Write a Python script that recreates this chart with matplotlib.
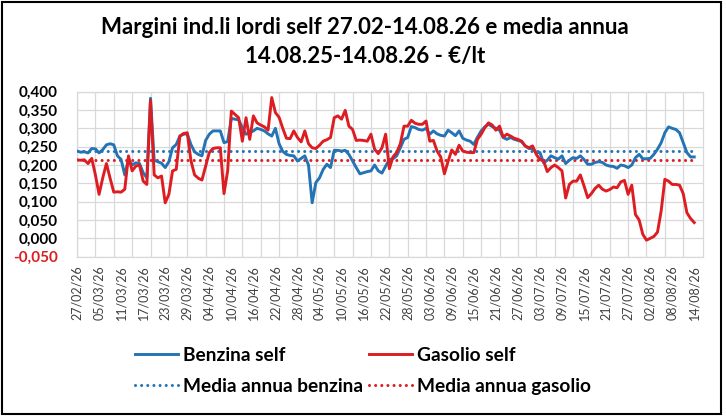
import matplotlib
matplotlib.use("Agg")
import matplotlib.pyplot as plt
import numpy as np
import pandas as pd
from matplotlib.patches import Rectangle

plt.rcParams['font.family'] = ['Lato', 'DejaVu Sans']

start_date = "2026-02-27"
end_date = "2026-08-14"

benzina = [
    0.238, 0.235, 0.236, 0.233, 0.245, 0.244, 0.233, 0.242, 0.255, 0.258,
    0.255, 0.225, 0.215, 0.173, 0.215, 0.200, 0.206, 0.204, 0.179, 0.165,
    0.382, 0.213, 0.209, 0.205, 0.193, 0.209, 0.247, 0.256, 0.279, 0.284,
    0.285, 0.256, 0.236, 0.229, 0.225, 0.267, 0.284, 0.293, 0.293, 0.293,
    0.261, 0.264, 0.327, 0.325, 0.323, 0.302, 0.284, 0.288, 0.293, 0.300,
    0.297, 0.293, 0.285, 0.279, 0.300, 0.258, 0.237, 0.229, 0.226, 0.225,
    0.211, 0.218, 0.225, 0.200, 0.097, 0.152, 0.165, 0.188, 0.202, 0.193,
    0.240, 0.240, 0.238, 0.240, 0.229, 0.211, 0.193, 0.176, 0.179, 0.182,
    0.184, 0.200, 0.184, 0.178, 0.197, 0.215, 0.217, 0.225, 0.247, 0.270,
    0.275, 0.305, 0.302, 0.297, 0.295, 0.300, 0.284, 0.293, 0.285, 0.281,
    0.279, 0.295, 0.288, 0.280, 0.293, 0.273, 0.268, 0.265, 0.256, 0.276,
    0.293, 0.304, 0.311, 0.305, 0.300, 0.295, 0.275, 0.270, 0.275, 0.270,
    0.267, 0.264, 0.252, 0.245, 0.245, 0.234, 0.234, 0.206, 0.213, 0.225,
    0.220, 0.216, 0.225, 0.204, 0.213, 0.220, 0.218, 0.225, 0.215, 0.202,
    0.202, 0.207, 0.209, 0.207, 0.200, 0.197, 0.196, 0.191, 0.200, 0.198,
    0.193, 0.200, 0.220, 0.229, 0.217, 0.217, 0.218, 0.229, 0.243, 0.261,
    0.288, 0.304, 0.300, 0.297, 0.288, 0.261, 0.234, 0.222, 0.222,
]

gasolio = [
    0.214, 0.213, 0.214, 0.204, 0.218, 0.173, 0.120, 0.165, 0.204, 0.164,
    0.126, 0.127, 0.126, 0.134, 0.225, 0.184, 0.197, 0.200, 0.156, 0.147,
    0.376, 0.173, 0.165, 0.170, 0.097, 0.120, 0.184, 0.188, 0.279, 0.286,
    0.288, 0.212, 0.173, 0.164, 0.159, 0.197, 0.234, 0.245, 0.247, 0.247,
    0.122, 0.184, 0.347, 0.338, 0.329, 0.265, 0.329, 0.270, 0.334, 0.315,
    0.309, 0.304, 0.295, 0.384, 0.343, 0.330, 0.300, 0.273, 0.272, 0.293,
    0.275, 0.263, 0.293, 0.258, 0.247, 0.245, 0.254, 0.265, 0.269, 0.275,
    0.329, 0.334, 0.325, 0.349, 0.306, 0.297, 0.267, 0.268, 0.267, 0.265,
    0.284, 0.243, 0.231, 0.247, 0.284, 0.190, 0.222, 0.234, 0.258, 0.306,
    0.306, 0.322, 0.314, 0.311, 0.311, 0.320, 0.265, 0.267, 0.238, 0.222,
    0.176, 0.210, 0.241, 0.229, 0.254, 0.238, 0.235, 0.234, 0.234, 0.270,
    0.284, 0.302, 0.315, 0.309, 0.295, 0.306, 0.276, 0.284, 0.279, 0.273,
    0.270, 0.265, 0.252, 0.247, 0.252, 0.229, 0.215, 0.211, 0.182, 0.193,
    0.200, 0.193, 0.184, 0.110, 0.147, 0.156, 0.156, 0.173, 0.143, 0.111,
    0.122, 0.136, 0.145, 0.134, 0.129, 0.133, 0.140, 0.138, 0.154, 0.158,
    0.120, 0.145, 0.065, 0.050, 0.011, -0.005, 0.000, 0.005, 0.017, 0.075,
    0.161, 0.156, 0.147, 0.147, 0.145, 0.122, 0.070, 0.054, 0.043,
]

media_benzina = 0.239
media_gasolio = 0.214

title_lines = ["Margini ind.li lordi self 27.02-14.08.26 e media annua",
               "14.08.25-14.08.26 - €/lt"]
series_labels = ["Benzina self", "Gasolio self",
                 "Media annua benzina", "Media annua gasolio"]
yticks = [-0.05, 0.0, 0.05, 0.10, 0.15, 0.20, 0.25, 0.30, 0.35, 0.40]

dates = pd.date_range(start_date, end_date, freq="D")
n = len(dates)
x = np.arange(n)

BLUE = "#2474b5"
RED = "#dd1d21"
GRID = "#d9d9d9"

fig = plt.figure(figsize=(7.26, 4.16), dpi=100)
ax = fig.add_axes([0.1061, 0.3830, 0.8623, 0.3966])

# grid
for gx in np.arange(0, n, 5):
    ax.axvline(gx, color=GRID, lw=0.9, zorder=0)
for gy in yticks:
    ax.axhline(gy, color=GRID, lw=0.9, zorder=0)

l1, = ax.plot(x, benzina, color=BLUE, lw=2.1, label=series_labels[0], zorder=3)
l2, = ax.plot(x, gasolio, color=RED, lw=2.1, label=series_labels[1], zorder=3)
l3, = ax.plot(x, [media_benzina] * n, color=BLUE, lw=2.2,
              ls=(0, (0.01, 2.0)), dash_capstyle='round', label=series_labels[2], zorder=2)
l4, = ax.plot(x, [media_gasolio] * n, color=RED, lw=2.2,
              ls=(0, (0.01, 2.0)), dash_capstyle='round', label=series_labels[3], zorder=2)

ax.set_xlim(0, 170.4)
ax.set_ylim(-0.05, 0.40)
ax.set_yticks(yticks)
ax.set_yticklabels([("%.3f" % v).replace(".", ",") for v in yticks],
                   fontsize=11, fontweight='bold')
ax.get_yticklabels()[0].set_color(RED)
tick_idx = np.arange(0, n, 6)
ax.set_xticks(tick_idx)
ax.set_xticklabels([dates[i].strftime("%d/%m/%y") for i in tick_idx],
                   rotation=90, fontsize=9, color="#404040")
ax.tick_params(axis='y', length=0, pad=14)
ax.tick_params(axis='x', length=0, pad=6)
for s in ax.spines.values():
    s.set_color(GRID)
    s.set_linewidth(0.9)

fig.text(0.503, 0.9327, title_lines[0], ha='center', va='center',
         fontsize=16, fontweight='bold')
fig.text(0.503, 0.863, title_lines[1], ha='center', va='center',
         fontsize=16, fontweight='bold')

leg = fig.legend([l1, l3, l2, l4],
                 [series_labels[0], series_labels[2], series_labels[1], series_labels[3]],
                 ncol=2, loc='center', bbox_to_anchor=(0.5, 0.109),
                 frameon=False, prop={'weight': 'bold', 'size': 13.8},
                 handlelength=2.25, handletextpad=0.26, columnspacing=0.3,
                 labelspacing=0.72, borderpad=0)

fig.patches.append(Rectangle((0.003, 0.005), 0.990, 0.990, transform=fig.transFigure,
                             fill=False, edgecolor='black', lw=1.5))

fig.savefig("out.png", dpi=100)
